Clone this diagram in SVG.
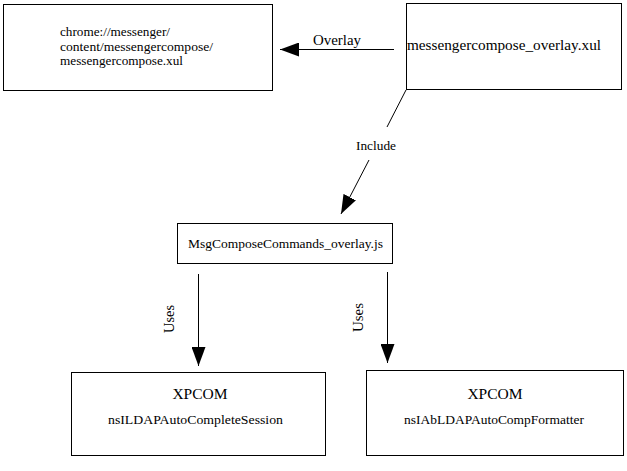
<svg xmlns="http://www.w3.org/2000/svg" width="627" height="471" viewBox="0 0 627 471">
<style>
.box{fill:#fff;stroke:#000;stroke-width:1}
.t{font-family:"Liberation Serif","Times New Roman",serif;fill:#000}
.ln{stroke:#000;stroke-width:1;fill:none}
</style>
<defs>
<marker id="ah" markerUnits="userSpaceOnUse" viewBox="0 0 19 14" refX="19" refY="7" markerWidth="19" markerHeight="14" orient="auto">
<path d="M0,0 L19,7 L0,14 Z" fill="#000"/>
</marker>
</defs>
<rect width="627" height="471" fill="#fff"/>
<g id="node-chrome">
<rect class="box" x="3.5" y="4.5" width="269" height="86"/>
<text class="t" font-size="13" x="60" y="36" textLength="110" lengthAdjust="spacingAndGlyphs">chrome://messenger/</text>
<text class="t" font-size="13" x="60" y="50.5" textLength="153" lengthAdjust="spacingAndGlyphs">content/messengercompose/</text>
<text class="t" font-size="13" x="60" y="65" textLength="123" lengthAdjust="spacingAndGlyphs">messengercompose.xul</text>
</g>
<g id="node-overlay-xul">
<rect class="box" x="406.5" y="3.5" width="215" height="86"/>
<text class="t" font-size="15" x="407" y="50" textLength="194" lengthAdjust="spacingAndGlyphs">messengercompose_overlay.xul</text>
</g>
<g id="node-commands-js">
<rect class="box" x="177.5" y="223.5" width="215" height="40"/>
<text class="t" font-size="13.4" x="285.5" y="248" text-anchor="middle" textLength="195" lengthAdjust="spacingAndGlyphs">MsgComposeCommands_overlay.js</text>
</g>
<g id="node-autocomplete-session">
<rect class="box" x="71.5" y="372.5" width="254" height="83"/>
<text class="t" font-size="15.5" x="200" y="399" text-anchor="middle">XPCOM</text>
<text class="t" font-size="13.4" x="195.5" y="424" text-anchor="middle" textLength="175" lengthAdjust="spacingAndGlyphs">nsILDAPAutoCompleteSession</text>
</g>
<g id="node-autocomp-formatter">
<rect class="box" x="366.5" y="370.5" width="257" height="85"/>
<text class="t" font-size="15.5" x="495" y="399" text-anchor="middle">XPCOM</text>
<text class="t" font-size="13.4" x="494" y="424" text-anchor="middle" textLength="180" lengthAdjust="spacingAndGlyphs">nsIAbLDAPAutoCompFormatter</text>
</g>
<g id="connectors">
<line class="ln" x1="394" y1="49.5" x2="280" y2="49.5" marker-end="url(#ah)"/>
<text class="t" font-size="15" x="313" y="45" textLength="48" lengthAdjust="spacingAndGlyphs">Overlay</text>
<line class="ln" x1="406" y1="90" x2="387" y2="127"/>
<line class="ln" x1="369" y1="160" x2="341" y2="214" marker-end="url(#ah)"/>
<text class="t" font-size="13.3" x="376" y="150" text-anchor="middle" textLength="40" lengthAdjust="spacingAndGlyphs">Include</text>
<line class="ln" x1="198.5" y1="274" x2="198.5" y2="366" marker-end="url(#ah)"/>
<text class="t" font-size="14" transform="translate(174,319) rotate(-90)" text-anchor="middle" textLength="28" lengthAdjust="spacingAndGlyphs">Uses</text>
<line class="ln" x1="387.5" y1="272" x2="387.5" y2="363" marker-end="url(#ah)"/>
<text class="t" font-size="14" transform="translate(363,317.5) rotate(-90)" text-anchor="middle" textLength="29" lengthAdjust="spacingAndGlyphs">Uses</text>
</g>
</svg>
